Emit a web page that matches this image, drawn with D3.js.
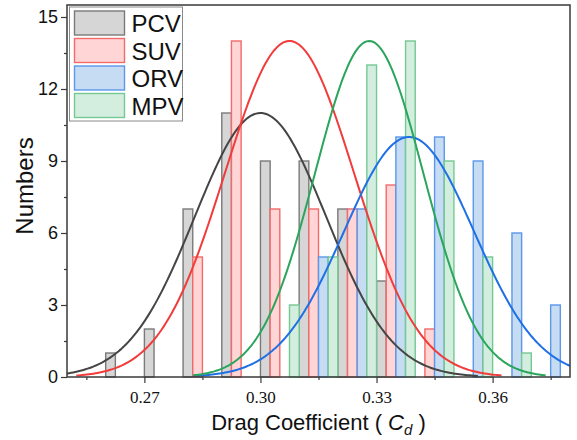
<!DOCTYPE html>
<html>
<head>
<meta charset="utf-8">
<script src="https://cdn.jsdelivr.net/npm/d3@7"></script>
<style>
  body { margin: 0; background: #fff; }
  svg text { font-family: "Liberation Sans", Arial, sans-serif; }
</style>
</head>
<body>
<svg id="chart" width="577" height="440"></svg>
<script>
// histogram bins (left edge of each group of bars)
const binStarts = [0.26, 0.27, 0.28, 0.29, 0.30, 0.31, 0.32, 0.33, 0.34, 0.35, 0.36, 0.37];
const seriesNames = ['PCV', 'SUV', 'ORV', 'MPV'];
const pcvCounts = [1, 2, 7, 11, 9, 9, 7, 4, 0, 0, 0, 0];
const suvCounts = [0, 0, 5, 14, 7, 7, 7, 8, 2, 0, 0, 0];
const orvCounts = [0, 0, 0, 0, 0, 5, 7, 10, 10, 9, 6, 3];
const mpvCounts = [0, 0, 0, 0, 3, 5, 13, 14, 9, 5, 1, 0];

// normal fit: centre, width, peak height, drawn range
const fitMean = [0.300, 0.3075, 0.3384, 0.3281];
const fitSigma = [0.0170, 0.0167, 0.0168, 0.0140];
const fitPeak = [11, 14, 10, 14];
const fitFrom = [0.25, 0.2524, 0.2826, 0.2826];
const fitTo = [0.3562, 0.3623, 0.38, 0.3737];

const xTicks = [0.27, 0.30, 0.33, 0.36];
const yTicks = [0, 3, 6, 9, 12, 15];

const barFill = ['#d6d6d6', '#ffd5d5', '#c6dcf3', '#d3eedf'];
const barStroke = ['#7a7a7a', '#f26a6a', '#5b97ea', '#74c893'];
const curveColor = ['#454545', '#f23b3b', '#1f6fe5', '#2aa55c'];

const allCounts = [pcvCounts, suvCounts, orvCounts, mpvCounts];
const binWidth = 0.01;
const subWidth = binWidth / seriesNames.length;

const margin = { top: 5, right: 7, bottom: 63, left: 67 };
const svg = d3.select('#chart');
const width = 577 - margin.left - margin.right;
const height = 440 - margin.top - margin.bottom;

const g = svg.append('g')
  .attr('transform', 'translate(' + margin.left + ',' + margin.top + ')');

const x = d3.scaleLinear().domain([0.25, 0.38]).range([0, width]);
const y = d3.scaleLinear().domain([0, 15.5]).range([height, 0]);

// bars
seriesNames.forEach((name, s) => {
  const rows = binStarts.map((b, i) => ({ start: b + s * subWidth, count: allCounts[s][i] }))
    .filter(d => d.count > 0);
  g.selectAll('.bar-' + name)
    .data(rows)
    .enter()
    .append('rect')
    .attr('class', 'bar-' + name)
    .attr('x', d => x(d.start))
    .attr('y', d => y(d.count))
    .attr('width', d => x(d.start + subWidth) - x(d.start))
    .attr('height', d => y(0) - y(d.count))
    .style('fill', barFill[s])
    .style('stroke', barStroke[s])
    .style('stroke-width', 1.4);
});

// fitted curves
const line = d3.line()
  .x(d => x(d[0]))
  .y(d => y(d[1]))
  .curve(d3.curveLinear);

seriesNames.forEach((name, s) => {
  const pts = [];
  const n = 200;
  for (let i = 0; i <= n; i++) {
    const xv = fitFrom[s] + (fitTo[s] - fitFrom[s]) * i / n;
    const dz = (xv - fitMean[s]) / fitSigma[s];
    pts.push([xv, fitPeak[s] * Math.exp(-0.5 * dz * dz)]);
  }
  g.append('path')
    .attr('d', line(pts))
    .style('fill', 'none')
    .style('stroke', curveColor[s])
    .style('stroke-width', 2);
});

// frame
g.append('rect')
  .attr('width', width)
  .attr('height', height)
  .style('fill', 'none')
  .style('stroke', '#3a3a3a')
  .style('stroke-width', 1.5);

// x axis
const xAxis = g.append('g')
  .attr('transform', 'translate(0,' + height + ')')
  .call(d3.axisBottom(x).tickValues(xTicks).tickSize(6).tickPadding(8).tickFormat(d3.format('.2f')));
xAxis.select('.domain').remove();
xAxis.selectAll('text')
  .style('font-family', '"Liberation Serif", "Times New Roman", serif')
  .style('font-size', '17px')
  .style('fill', '#111');

const xMinor = g.append('g')
  .attr('transform', 'translate(0,' + height + ')')
  .call(d3.axisBottom(x).tickValues([0.255, 0.285, 0.315, 0.345, 0.375]).tickSize(3).tickFormat(''));
xMinor.select('.domain').remove();

// y axis
const yAxis = g.append('g')
  .call(d3.axisLeft(y).tickValues(yTicks).tickSize(6).tickPadding(3));
yAxis.select('.domain').remove();
yAxis.selectAll('text')
  .style('font-size', '18px')
  .style('fill', '#111');

const yMinor = g.append('g')
  .call(d3.axisLeft(y).tickValues([1.5, 4.5, 7.5, 10.5, 13.5]).tickSize(3).tickFormat(''));
yMinor.select('.domain').remove();

g.selectAll('.tick line').style('stroke', '#3a3a3a').style('stroke-width', 1.2);

// axis titles
const xTitle = svg.append('text')
  .attr('x', margin.left + width / 2)
  .attr('y', 430)
  .attr('text-anchor', 'middle')
  .style('font-size', '22px')
  .style('fill', '#111');
xTitle.append('tspan').text('Drag Coefficient ( ');
xTitle.append('tspan').style('font-style', 'italic').text('C');
xTitle.append('tspan').style('font-style', 'italic').style('font-size', '15px').attr('dy', 5).text('d');
xTitle.append('tspan').attr('dy', -5).text(' )');

svg.append('text')
  .attr('transform', 'translate(33,186) rotate(-90)')
  .attr('text-anchor', 'middle')
  .style('font-size', '24px')
  .style('fill', '#111')
  .text('Numbers');

// legend
const legend = svg.append('g').attr('transform', 'translate(69.5,7)');
legend.append('rect')
  .attr('width', 113)
  .attr('height', 114)
  .style('fill', '#fff')
  .style('stroke', '#8a8a8a')
  .style('stroke-width', 1);

seriesNames.forEach((name, s) => {
  const row = legend.append('g').attr('transform', 'translate(5,' + (4 + s * 27.5) + ')');
  row.append('rect')
    .attr('width', 50)
    .attr('height', 24)
    .style('fill', barFill[s])
    .style('stroke', barStroke[s])
    .style('stroke-width', 1.4);
  row.append('text')
    .attr('x', 57)
    .attr('y', 21)
    .style('font-size', '24px')
    .style('fill', '#111')
    .text(name);
});
</script>
</body>
</html>
